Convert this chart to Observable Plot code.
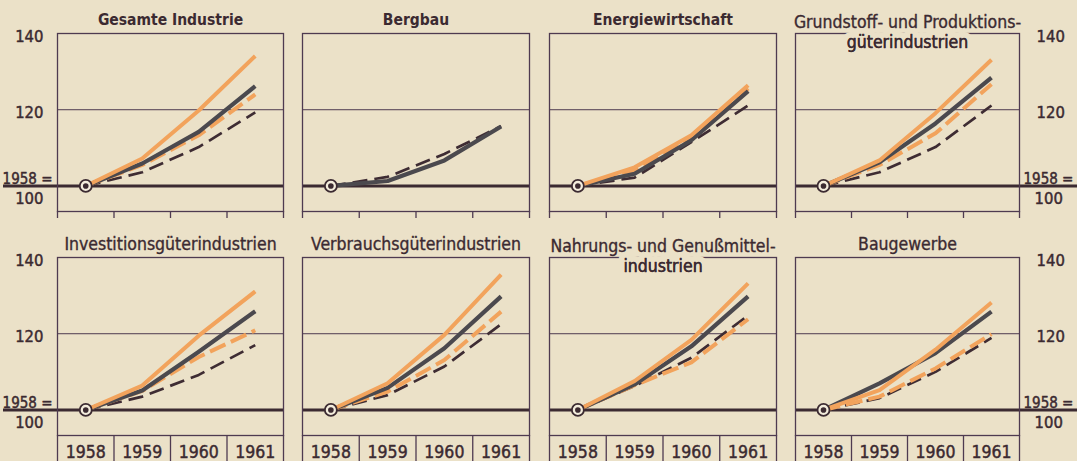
<!DOCTYPE html>
<html><head><meta charset="utf-8">
<script src="https://cdn.jsdelivr.net/npm/d3@7"></script>
<script src="https://cdn.jsdelivr.net/npm/@observablehq/plot@0.6"></script>
<style>
html,body{margin:0;padding:0;background:#ebe1c8;}
#chart{position:relative;width:1077px;height:461px;overflow:hidden;background:#ebe1c8;}
#chart svg{position:absolute;left:0;top:0;}
</style></head><body><div id="chart"></div>
<script>
// ---- data ----
const years = [1958, 1959, 1960, 1961];
const titleLine1 = ["Gesamte Industrie", "Bergbau", "Energiewirtschaft", "Grundstoff- und Produktions-",
  "Investitionsgüterindustrien", "Verbrauchsgüterindustrien", "Nahrungs- und Genußmittel-", "Baugewerbe"];
const titleLine2 = ["", "", "", "güterindustrien", "", "", "industrien", ""];
const titleBold = [true, true, true, false, false, false, false, false];
// four series per panel (1958 = 100)
const orangeSolid = [
  [100, 107.2, 119.8, 134.1], null, [100, 104.9, 113.3, 126.4], [100, 106.7, 119.1, 133.1],
  [100, 106.4, 119.5, 131.1], [100, 107.0, 119.7, 135.5], [100, 107.6, 118.4, 133.2], [100, 105.2, 115.8, 128.2]];
const darkSolid = [
  [100, 105.9, 114.2, 126.2], [100, 101.3, 106.7, 115.6], [100, 103.2, 112.0, 124.9], [100, 106.2, 116.4, 128.4],
  [100, 105.1, 115.3, 125.9], [100, 105.8, 116.2, 129.8], [100, 106.7, 116.7, 129.8], [100, 107.0, 114.9, 125.8]];
const orangeDashed = [
  [100, 105.5, 113.3, 124.0], null, [100, 104.2, 112.8, 125.6], [100, 105.5, 113.8, 126.7],
  [100, 105.0, 113.9, 120.9], [100, 104.8, 113.1, 125.8], [100, 106.5, 112.5, 123.8], [100, 103.5, 110.9, 119.9]];
const darkDashed = [
  [100, 103.6, 110.2, 119.3], [100, 102.4, 108.4, 115.7], [100, 102.2, 111.5, 121.1], [100, 103.6, 110.2, 121.1],
  [100, 103.5, 109.2, 117.0], [100, 103.9, 111.4, 122.5], [100, 106.3, 113.7, 124.8], [100, 103.1, 110.0, 118.9]];
const yTickValues = [140, 120];
const yTickLabels = ["140", "120"];
const baseValue = 100;
const baseLabelTop = "1958 =";
const baseLabelBottom = "100";

// ---- layout / style ----
const W = 1077, H = 461;
const colEdges = [[57, 283], [302, 529], [549, 776], [795, 1019]];
const rowEdges = [[33, 211], [257, 435]];
const yDomain = [93.3, 140];
const bg = "#ebe1c8", ink = "#3b2a31", frameC = "#4e3a50";
const orange = "#f2a35c", dark = "#4b494e", darkDash = "#3e2c33";
const font = "'DejaVu Sans Condensed', sans-serif";

const seriesDefs = [
  {vals: darkDashed, stroke: darkDash, width: 2.7, dash: "15,7"},
  {vals: orangeDashed, stroke: orange, width: 4, dash: "17,6"},
  {vals: darkSolid, stroke: dark, width: 4.2, dash: null},
  {vals: orangeSolid, stroke: orange, width: 4, dash: null}
];

const chart = document.getElementById("chart");
for (let i = 0; i < 8; i++) {
  const col = i % 4, row = Math.floor(i / 4);
  const [left, right] = colEdges[col];
  const [top, bottom] = rowEdges[row];
  const frameH = bottom - top;
  const bounds = [years[0] - 0.5, ...years.map(y => y + 0.5)];
  const marks = [
    Plot.ruleY([120], {stroke: frameC, strokeWidth: 1}),
    Plot.ruleY([baseValue], {stroke: ink, strokeWidth: 3,
      insetLeft: col === 0 ? -(left - 3) : 0, insetRight: col === 3 ? -(W - right) : 0}),
    Plot.frame({stroke: frameC, strokeWidth: 1.3}),
    Plot.ruleX(bounds, {stroke: frameC, strokeWidth: 1.3, insetTop: frameH, insetBottom: row === 0 ? -7 : -30})
  ];
  for (const s of seriesDefs) {
    const v = s.vals[i];
    if (!v) continue;
    const d = years.map((y, k) => ({year: y, value: v[k]}));
    marks.push(Plot.line(d, {x: "year", y: "value", stroke: s.stroke, strokeWidth: s.width,
      strokeDasharray: s.dash, strokeLinejoin: "round", strokeLinecap: "butt"}));
  }
  const start = [{year: years[0], value: darkSolid[i][0]}];
  marks.push(Plot.dot(start, {x: "year", y: "value", r: 6, fill: "#f3ecdc", stroke: ink, strokeWidth: 1.8}));
  marks.push(Plot.dot(start, {x: "year", y: "value", r: 2.8, fill: ink, stroke: "none"}));
  // titles
  const two = titleLine2[i] !== "";
  marks.push(Plot.text([titleLine1[i]], {frameAnchor: "top", lineAnchor: "middle", dy: two ? -11 : -13,
    fontSize: titleBold[i] ? 15.5 : 17.5, fontWeight: titleBold[i] ? "bold" : "normal", fill: ink,
    stroke: titleBold[i] ? "none" : ink, strokeWidth: 0.35, text: d => d}));
  if (two) marks.push(Plot.text([titleLine2[i]], {frameAnchor: "top", lineAnchor: "middle", dy: 9, fontSize: 17.5,
    fill: ink, stroke: bg, strokeWidth: 12, text: d => d}));
  if (two) marks.push(Plot.text([titleLine2[i]], {frameAnchor: "top", lineAnchor: "middle", dy: 9, fontSize: 17.5,
    fill: ink, stroke: ink, strokeWidth: 0.35, text: d => d}));
  // y labels
  const tickData = yTickValues.map((v, k) => ({v, t: yTickLabels[k]}));
  const numStyle = {fill: ink, stroke: ink, strokeWidth: 0.45};
  if (col === 0 || col === 3) {
    const isL = col === 0;
    const anchor = isL ? "end" : "start";
    marks.push(Plot.text(tickData, {y: "v", text: "t", frameAnchor: isL ? "left" : "right", lineAnchor: "middle",
      dx: isL ? -14 : 17, dy: 3, textAnchor: anchor, fontSize: 16.5, ...numStyle}));
    marks.push(Plot.text([baseLabelTop], {y: () => baseValue, text: d => d, frameAnchor: isL ? "left" : "right",
      lineAnchor: "middle", dx: isL ? -5 : 4, dy: -7, textAnchor: anchor, fontSize: 15, ...numStyle}));
    marks.push(Plot.text([baseLabelBottom], {y: () => baseValue, text: d => d, frameAnchor: isL ? "left" : "right",
      lineAnchor: "middle", dx: isL ? -14 : 15, dy: 13, textAnchor: anchor, fontSize: 16.5, ...numStyle}));
  }
  if (row === 1) {
    marks.push(Plot.text(years, {x: d => d, text: d => String(d), frameAnchor: "bottom", lineAnchor: "middle",
      dy: 17, fontSize: 17.5, ...numStyle}));
  }
  const svg = Plot.plot({
    width: W, height: H,
    marginLeft: left, marginRight: W - right, marginTop: top, marginBottom: H - bottom,
    x: {domain: [years[0] - 0.5, years[years.length - 1] + 0.5], axis: null},
    y: {domain: yDomain, axis: null},
    style: {background: "transparent", overflow: "visible", fontFamily: font, color: ink},
    marks
  });
  chart.appendChild(svg);
}
</script></body></html>
